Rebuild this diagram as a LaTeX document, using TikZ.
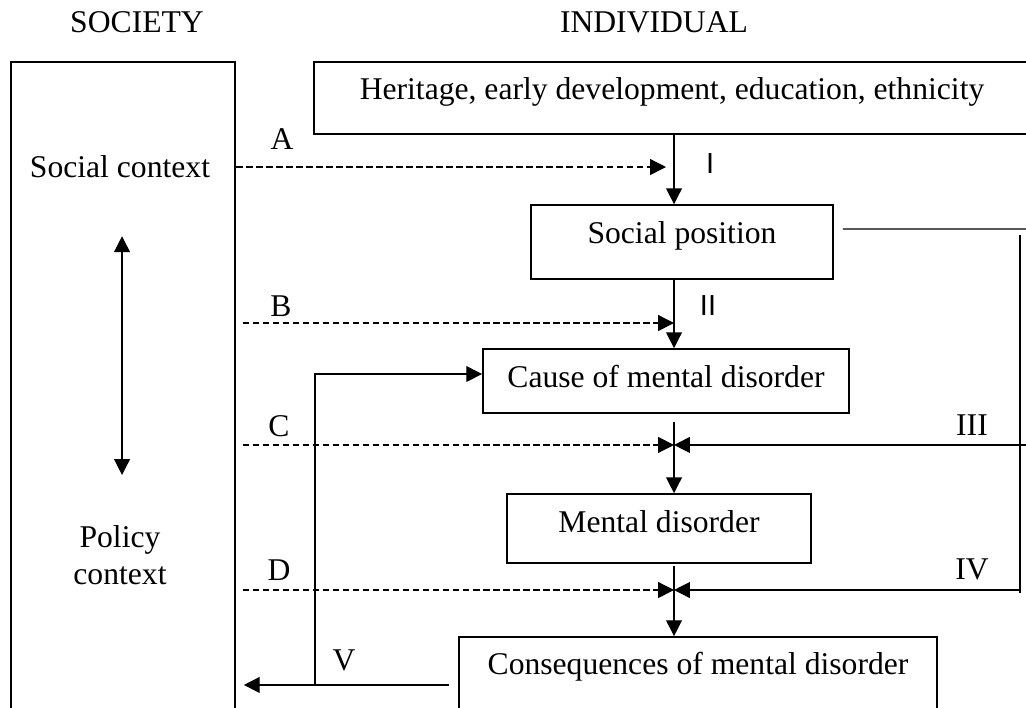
\documentclass[tikz,border=0pt]{standalone}
\usepackage{fontspec}
\setmainfont{Liberation Serif}
\newfontfamily\arialfont{Liberation Sans}
\usetikzlibrary{arrows.meta}

\begin{document}
\begin{tikzpicture}[
    font=\fontsize{12}{14}\selectfont,
    >={Triangle[length=6pt,width=6pt]},
    line width=0.5pt,
    box/.style={draw, line width=0.7pt, inner xsep=0pt, inner ysep=0pt, text height=14.4pt},
    flow/.style={dash pattern=on 2.5pt off 1.3pt},
    numeral/.style={font=\arialfont\fontsize{11}{13}\selectfont}
  ]
        \useasboundingbox (0,0) rectangle (13.68,9.44);
        \clip (0,0) rectangle (13.68,9.44);

        % Headings
        \node (soc) at (1.827,9.147) {SOCIETY};
        \node (ind) at (8.72,9.147) {INDIVIDUAL};

        % Society column
        \node[draw, line width=0.7pt, minimum width=2.987cm, minimum height=8.773cm] (society) at (1.64,4.227) {};
        \node (social) at (1.60,7.213) {Social context};
        \node[align=center] (policy) at (1.60,2.04) {Policy\\context};
        \coordinate (up) at (1.627,6.29);
        \coordinate (down) at (1.627,3.107);
        \draw[<->] (up) -- (down);

        % Individual boxes
        \node[box, minimum width=9.547cm, text depth=12.9pt] (heritage) at (8.96,8.133) {Heritage, early development, education, ethnicity};
        \node[box, minimum width=4.027cm, text depth=13.6pt] (position) at (9.093,6.213) {Social position};
        \node[box, minimum width=4.88cm, text depth=9.8pt] (cause) at (8.88,4.36) {Cause of mental disorder};
        \node[box, minimum width=4.053cm, text depth=11.7pt] (disorder) at (8.787,2.393) {Mental disorder};
        \node[box, minimum width=6.373cm, text depth=14pt] (conseq) at (9.307,0.447) {Consequences of mental disorder};

        % Junctions
        \coordinate (spine) at (8.987,0);
        \coordinate (ja) at (8.88,7.213);
        \coordinate (jb) at (8.987,5.133);
        \coordinate (jc) at (8.987,3.507);
        \coordinate (jd) at (8.987,1.573);
        \coordinate (rsp) at (13.73,6.387);
        \coordinate (rtop) at (13.6,6.307);
        \coordinate (rbot) at (13.6,1.533);
        \coordinate (riii) at (13.68,3.507);
        \coordinate (riv) at (13.6,1.573);
        \coordinate (jv) at (4.2,0.307);
        \coordinate (jw) at (4.2,4.453);

        % Main chain
        \draw[->] (heritage.south -| spine) -- (position.north -| spine);
        \draw[->] (position.south -| spine) -- (cause.north -| spine);
        \draw[->, shorten <=3pt] (cause.south -| spine) -- (disorder.north -| spine);
        \draw[->, shorten <=1pt] (disorder.south -| spine) -- (conseq.north -| spine);

        % Influence of society
        \draw[flow, ->] (society.east |- ja) -- (ja);
        \draw[flow, ->, shorten <=2.5pt] (society.east |- jb) -- (jb);
        \draw[flow, ->, shorten <=2.5pt] (society.east |- jc) -- (jc);
        \draw[flow, ->, shorten <=2.5pt] (society.east |- jd) -- (jd);

        % Social position acting later on
        \draw ([shift={(0.12,0.173)}]position.east) -- (rsp);
        \draw (rtop) -- (rbot);
        \draw[->] (riii) -- (jc);
        \draw[->] (riv) -- (jd);

        % Feedback from consequences
        \draw[->, shorten <=3.4pt, shorten >=3pt] (conseq.west |- jv) -- (society.east |- jv);
        \draw[->] (jv) -- (jw) -- (cause.west |- jw);

        % Path labels
        \node (la) at (3.76,7.587) {A};
        \node (lb) at (3.747,5.36) {B};
        \node (lc) at (3.72,3.76) {C};
        \node (ld) at (3.72,1.84) {D};
        \node (lv) at (4.587,0.64) {V};
        \node (liii) at (12.96,3.767) {III};
        \node (liv) at (12.96,1.853) {IV};
        \node[numeral] (li) at (9.467,7.253) {I};
        \node[numeral] (lii) at (9.44,5.36) {II};
\end{tikzpicture}
\end{document}
